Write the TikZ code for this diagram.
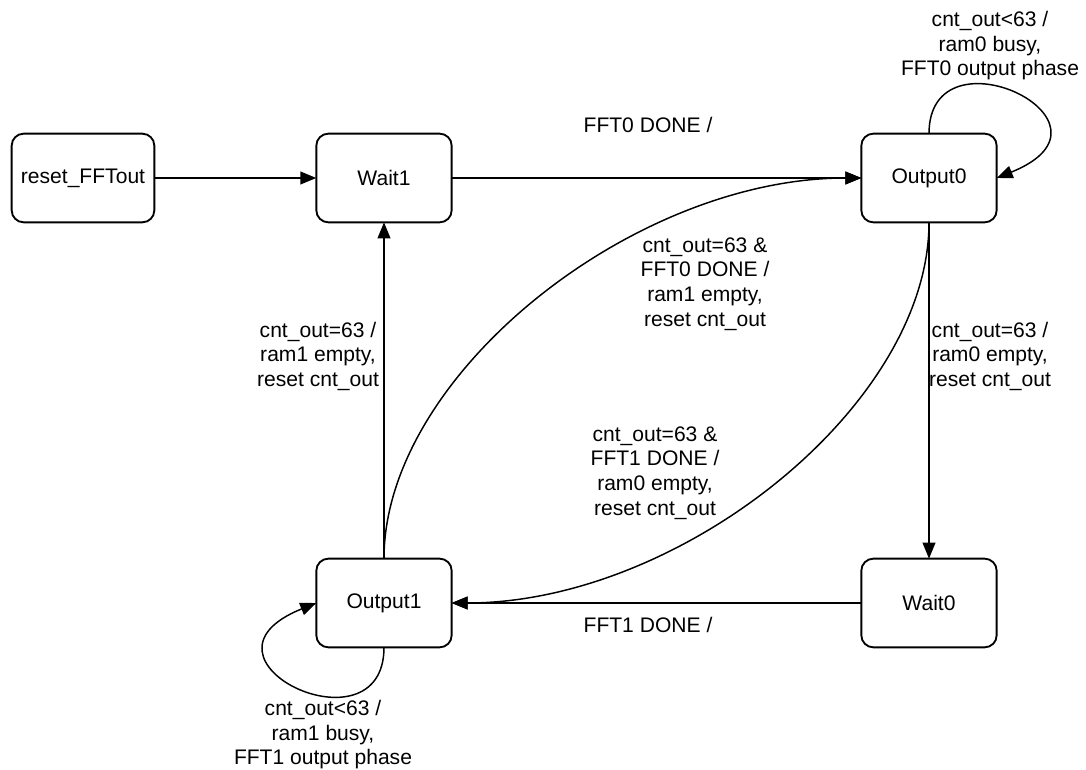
\documentclass[tikz,border=0pt]{standalone}
\usepackage{fontspec}
\setmainfont{Liberation Sans}
\usetikzlibrary{arrows.meta}
\begin{document}
\begin{tikzpicture}[x=0.75pt,y=-0.75pt,
  every node/.style={font=\fontsize{15.8}{18.4}\selectfont},
  state/.style={draw,line width=1.4pt,rounded corners=9pt,minimum width=101.5pt,minimum height=66.5pt,inner sep=0pt,outer sep=0pt},
  lbl/.style={align=center,inner sep=0pt},
  arr/.style={line width=1.4pt,-{Triangle[length=12pt,width=9.5pt]}},
  carr/.style={line width=1.1pt,-{Triangle[length=12pt,width=9.5pt]}}]
\useasboundingbox[fill=white] (0,0) rectangle (1086,770);
\node[state,minimum width=107pt] (reset) at (83,178) {reset\_FFTout};
\node[state] (wait1) at (384,178) {Wait1};
\node[state] (out0) at (929,178) {Output0};
\node[state] (out1) at (384,603) {Output1};
\node[state] (wait0) at (929,603) {Wait0};

\draw[arr] (reset) -- (wait1);
\draw[arr] (wait1) -- (out0);
\draw[arr] (out0) -- (wait0);
\draw[arr] (wait0) -- (out1);
\draw[arr] (out1) -- (wait1);
\draw[carr] (out1.north) .. controls +(0,-183) and +(-229,0) .. (out0.west);
\draw[carr] (out0.south) .. controls +(0,183) and +(229,0) .. (out1.east);
\draw[carr] (out0.north) .. controls +(0,-110) and +(139,-56) .. (out0.east);
\draw[carr] (out1.south) .. controls +(0,110) and +(-139,56) .. (out1.west);

\node[lbl] (l1) at (648,125) {FFT0 DONE /};
\node[lbl] (l2) at (648,625) {FFT1 DONE /};
\node[lbl] (l3) at (990,46) {cnt\_out<63 /\\ram0 busy,\\FFT0 output phase};
\node[lbl] (l4) at (323,735) {cnt\_out<63 /\\ram1 busy,\\FFT1 output phase};
\node[lbl] (l5) at (318,356) {cnt\_out=63 /\\ram1 empty,\\reset cnt\_out};
\node[lbl] (l6) at (990,356) {cnt\_out=63 /\\ram0 empty,\\reset cnt\_out};
\node[lbl] (l7) at (705,284) {cnt\_out=63 \&\\FFT0 DONE /\\ram1 empty,\\reset cnt\_out};
\node[lbl] (l8) at (655,473) {cnt\_out=63 \&\\FFT1 DONE /\\ram0 empty,\\reset cnt\_out};
\end{tikzpicture}
\end{document}
